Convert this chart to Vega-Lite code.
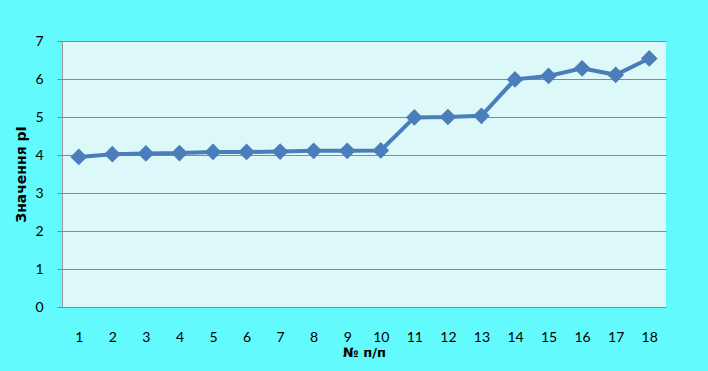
{
  "$schema": "https://vega.github.io/schema/vega-lite/v6.json",
  "autosize": {"type": "none"},
  "width": 604,
  "height": 266,
  "padding": {"left": 62, "top": 41, "right": 42, "bottom": 64},
  "background": "#62fafd",
  "config": {
    "view": {"fill": "#dcf8f9", "stroke": null},
    "font": "Lato"
  },
  "data": {
    "values": [
      {"n": "1", "v": 3.95},
      {"n": "2", "v": 4.02},
      {"n": "3", "v": 4.04},
      {"n": "4", "v": 4.05},
      {"n": "5", "v": 4.08},
      {"n": "6", "v": 4.08},
      {"n": "7", "v": 4.09},
      {"n": "8", "v": 4.11},
      {"n": "9", "v": 4.11},
      {"n": "10", "v": 4.12},
      {"n": "11", "v": 4.99},
      {"n": "12", "v": 5.0},
      {"n": "13", "v": 5.03},
      {"n": "14", "v": 5.99},
      {"n": "15", "v": 6.08},
      {"n": "16", "v": 6.28},
      {"n": "17", "v": 6.11},
      {"n": "18", "v": 6.54}
    ]
  },
  "mark": {
    "type": "line",
    "color": "#4a7ebb",
    "strokeWidth": 4,
    "point": {"shape": "diamond", "size": 280, "filled": true, "color": "#4a7ebb", "opacity": 1}
  },
  "encoding": {
    "x": {
      "field": "n",
      "type": "ordinal",
      "sort": null,
      "scale": {"paddingInner": 0, "paddingOuter": 0.5},
      "axis": {
        "title": "№ п/п",
        "titleFont": "DejaVu Sans",
        "titleFontSize": 13,
        "titleFontWeight": "bold",
        "titleColor": "#000",
        "titlePadding": 2,
        "labelAngle": 0,
        "labelFontSize": 14,
        "labelColor": "#000",
        "labelPadding": 23,
        "ticks": false,
        "domain": false,
        "grid": false
      }
    },
    "y": {
      "field": "v",
      "type": "quantitative",
      "scale": {"domain": [0, 7], "nice": false},
      "axis": {
        "title": "Значення  pI",
        "titleFont": "DejaVu Sans",
        "titleFontSize": 14,
        "titleFontWeight": "bold",
        "titleColor": "#000",
        "titlePadding": 6,
        "values": [0, 1, 2, 3, 4, 5, 6, 7],
        "labelFontSize": 14,
        "labelColor": "#000",
        "labelPadding": 14,
        "tickSize": 5,
        "tickColor": "#888888",
        "domainColor": "#999999",
        "gridColor": "#888888",
        "gridOpacity": 1,
        "gridWidth": 1.2
      }
    }
  }
}
